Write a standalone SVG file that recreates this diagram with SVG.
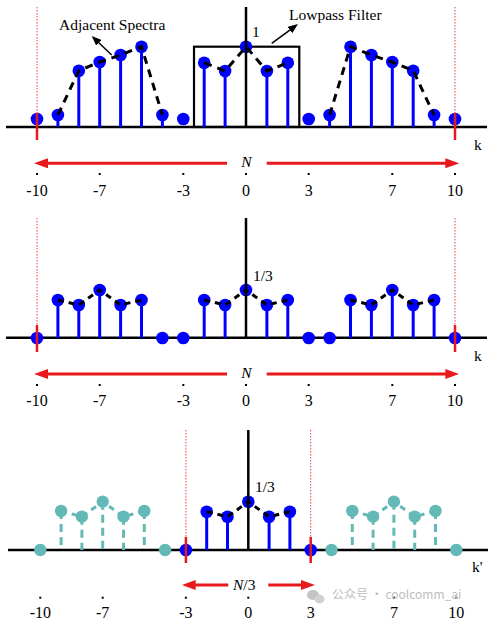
<svg xmlns="http://www.w3.org/2000/svg" width="499" height="624" viewBox="0 0 499 624">
<defs>
<style>
.axis{stroke:#000;stroke-width:2.5;fill:none}
.stem{stroke:#0000ff;stroke-width:3}
.tstem{stroke:#63b9b6;stroke-width:3;stroke-dasharray:8 5}
.dot{fill:#0000ff}
.tdot{fill:#63b9b6}
.env{stroke:#000;stroke-width:3;fill:none;stroke-dasharray:8 6}
.envs{stroke:#000;stroke-width:3;fill:none;stroke-dasharray:6 5}
.tenv{stroke:#63b9b6;stroke-width:3;fill:none;stroke-dasharray:6 5}
.rdot{stroke:#f04040;stroke-width:1;stroke-dasharray:1.5 1.5}
.rtick{stroke:#e8191c;stroke-width:2.5}
.rarrow{stroke:#e8191c;stroke-width:3;fill:none;marker-end:url(#ra)}
.barrow{stroke:#000;stroke-width:1.5;fill:none;marker-end:url(#ba)}
.lbl{font-family:"Liberation Serif",serif;font-size:15.5px;fill:#000}
.num{font-family:"Liberation Serif",serif;font-size:16px;fill:#000;text-anchor:middle}
.it{font-style:italic}
.tk{fill:#000}
</style>
<marker id="ra" markerUnits="userSpaceOnUse" markerWidth="14" markerHeight="11" refX="3" refY="5" orient="auto">
<path d="M0,0 L14,5 L0,10 z" fill="#e8191c"/>
</marker>
<marker id="ba" markerUnits="userSpaceOnUse" markerWidth="10" markerHeight="8" refX="2" refY="4" orient="auto">
<path d="M0,0 L10,4 L0,8 z" fill="#000"/>
</marker>
</defs>
<rect width="499" height="624" fill="#fff"/>

<!-- TOP PANEL -->
<g id="panel1">
<g id="p1-guides">
<line class="rdot" x1="37" y1="7" x2="37" y2="127"/>
<line class="rdot" x1="455" y1="7" x2="455" y2="127"/>
</g>
<g id="p1-axis">
<line class="axis" x1="6" y1="127" x2="487" y2="127"/>
</g>
<g id="p1-filter">
<rect x="194" y="46.7" width="105.3" height="80.3" fill="none" stroke="#000" stroke-width="2.2"/>
</g>
<g id="p1-stems">
<line class="stem" x1="57.9" y1="115" x2="57.9" y2="127"/>
<line class="stem" x1="78.8" y1="70.7" x2="78.8" y2="127"/>
<line class="stem" x1="99.7" y1="62" x2="99.7" y2="127"/>
<line class="stem" x1="120.6" y1="55" x2="120.6" y2="127"/>
<line class="stem" x1="141.5" y1="46.7" x2="141.5" y2="127"/>
<line class="stem" x1="162.4" y1="115" x2="162.4" y2="127"/>
<line class="stem" x1="204.2" y1="62.7" x2="204.2" y2="127"/>
<line class="stem" x1="225.1" y1="71" x2="225.1" y2="127"/>
<line class="stem" x1="266.9" y1="71" x2="266.9" y2="127"/>
<line class="stem" x1="287.8" y1="62.7" x2="287.8" y2="127"/>
<line class="stem" x1="329.6" y1="115" x2="329.6" y2="127"/>
<line class="stem" x1="350.5" y1="46.7" x2="350.5" y2="127"/>
<line class="stem" x1="371.4" y1="55" x2="371.4" y2="127"/>
<line class="stem" x1="392.3" y1="62" x2="392.3" y2="127"/>
<line class="stem" x1="413.2" y1="70.7" x2="413.2" y2="127"/>
<line class="stem" x1="434.1" y1="115" x2="434.1" y2="127"/>
</g>
<g id="p1-dots">
<circle class="dot" cx="37" cy="119" r="6.3"/>
<circle class="dot" cx="57.9" cy="115" r="6.3"/>
<circle class="dot" cx="78.8" cy="70.7" r="6.3"/>
<circle class="dot" cx="99.7" cy="62" r="6.3"/>
<circle class="dot" cx="120.6" cy="55" r="6.3"/>
<circle class="dot" cx="141.5" cy="46.7" r="6.3"/>
<circle class="dot" cx="162.4" cy="115" r="6.3"/>
<circle class="dot" cx="183.3" cy="119" r="6.3"/>
<circle class="dot" cx="204.2" cy="62.7" r="6.3"/>
<circle class="dot" cx="225.1" cy="71" r="6.3"/>
<circle class="dot" cx="246" cy="46.7" r="6.3"/>
<circle class="dot" cx="266.9" cy="71" r="6.3"/>
<circle class="dot" cx="287.8" cy="62.7" r="6.3"/>
<circle class="dot" cx="308.7" cy="119" r="6.3"/>
<circle class="dot" cx="329.6" cy="115" r="6.3"/>
<circle class="dot" cx="350.5" cy="46.7" r="6.3"/>
<circle class="dot" cx="371.4" cy="55" r="6.3"/>
<circle class="dot" cx="392.3" cy="62" r="6.3"/>
<circle class="dot" cx="413.2" cy="70.7" r="6.3"/>
<circle class="dot" cx="434.1" cy="115" r="6.3"/>
<circle class="dot" cx="455" cy="119" r="6.3"/>
</g>
<g id="p1-yaxis">
<line class="axis" x1="246" y1="7" x2="246" y2="127"/>
</g>
<g id="p1-envelope">
<polyline class="env" points="57.9,115 78.8,70.7 99.7,62 120.6,55 141.5,46.7 162.4,115"/>
<polyline class="env" points="204.2,62.7 225.1,71 246,46.7 266.9,71 287.8,62.7"/>
<polyline class="env" points="329.6,115 350.5,46.7 371.4,55 392.3,62 413.2,70.7 434.1,115"/>
</g>
<g id="p1-ticks">
<line class="rtick" x1="37" y1="113" x2="37" y2="140"/>
<line class="rtick" x1="455" y1="113" x2="455" y2="140"/>
</g>
<g id="p1-labels">
<text class="lbl" x="59" y="30">Adjacent Spectra</text>
<text class="lbl" x="289" y="20">Lowpass Filter</text>
<text class="lbl" x="252" y="37">1</text>
<text class="lbl" x="474" y="150">k</text>
<text class="lbl it" x="246.5" y="167" text-anchor="middle">N</text>
</g>
<g id="p1-connectors">
<line class="barrow" x1="111.7" y1="55" x2="97.5" y2="41.5"/>
<line class="barrow" x1="271.7" y1="43.3" x2="291.5" y2="28.8"/>
<line class="rarrow" x1="227" y1="163.3" x2="45" y2="163.3"/>
<line class="rarrow" x1="266.7" y1="163.3" x2="448.3" y2="163.3"/>
</g>
<g id="p1-scale">
<rect class="tk" x="36" y="173" width="2" height="2"/>
<rect class="tk" x="98.7" y="173" width="2" height="2"/>
<rect class="tk" x="182.3" y="173" width="2" height="2"/>
<rect class="tk" x="245" y="173" width="2" height="2"/>
<rect class="tk" x="307.7" y="173" width="2" height="2"/>
<rect class="tk" x="391.3" y="173" width="2" height="2"/>
<rect class="tk" x="454" y="173" width="2" height="2"/>
<text class="num" x="37" y="196">-10</text>
<text class="num" x="99.7" y="196">-7</text>
<text class="num" x="183.3" y="196">-3</text>
<text class="num" x="246" y="196">0</text>
<text class="num" x="308.7" y="196">3</text>
<text class="num" x="392.3" y="196">7</text>
<text class="num" x="455" y="196">10</text>
</g>
</g>

<!-- MIDDLE PANEL -->
<g id="panel2">
<g id="p2-guides">
<line class="rdot" x1="37" y1="218" x2="37" y2="338"/>
<line class="rdot" x1="455" y1="218" x2="455" y2="338"/>
</g>
<g id="p2-axis">
<line class="axis" x1="6" y1="337.7" x2="487" y2="337.7"/>
</g>
<g id="p2-stems">
<line class="stem" x1="57.9" y1="300" x2="57.9" y2="338"/>
<line class="stem" x1="78.8" y1="305" x2="78.8" y2="338"/>
<line class="stem" x1="99.7" y1="290" x2="99.7" y2="338"/>
<line class="stem" x1="120.6" y1="305" x2="120.6" y2="338"/>
<line class="stem" x1="141.5" y1="300" x2="141.5" y2="338"/>
<line class="stem" x1="204.2" y1="300" x2="204.2" y2="338"/>
<line class="stem" x1="225.1" y1="305" x2="225.1" y2="338"/>
<line class="stem" x1="266.9" y1="305" x2="266.9" y2="338"/>
<line class="stem" x1="287.8" y1="300" x2="287.8" y2="338"/>
<line class="stem" x1="350.5" y1="300" x2="350.5" y2="338"/>
<line class="stem" x1="371.4" y1="305" x2="371.4" y2="338"/>
<line class="stem" x1="392.3" y1="290" x2="392.3" y2="338"/>
<line class="stem" x1="413.2" y1="305" x2="413.2" y2="338"/>
<line class="stem" x1="434.1" y1="300" x2="434.1" y2="338"/>
</g>
<g id="p2-dots">
<circle class="dot" cx="37" cy="338" r="6.3"/>
<circle class="dot" cx="57.9" cy="300" r="6.3"/>
<circle class="dot" cx="78.8" cy="305" r="6.3"/>
<circle class="dot" cx="99.7" cy="290" r="6.3"/>
<circle class="dot" cx="120.6" cy="305" r="6.3"/>
<circle class="dot" cx="141.5" cy="300" r="6.3"/>
<circle class="dot" cx="162.4" cy="338" r="6.3"/>
<circle class="dot" cx="183.3" cy="338" r="6.3"/>
<circle class="dot" cx="204.2" cy="300" r="6.3"/>
<circle class="dot" cx="225.1" cy="305" r="6.3"/>
<circle class="dot" cx="246" cy="290" r="6.3"/>
<circle class="dot" cx="266.9" cy="305" r="6.3"/>
<circle class="dot" cx="287.8" cy="300" r="6.3"/>
<circle class="dot" cx="308.7" cy="338" r="6.3"/>
<circle class="dot" cx="329.6" cy="338" r="6.3"/>
<circle class="dot" cx="350.5" cy="300" r="6.3"/>
<circle class="dot" cx="371.4" cy="305" r="6.3"/>
<circle class="dot" cx="392.3" cy="290" r="6.3"/>
<circle class="dot" cx="413.2" cy="305" r="6.3"/>
<circle class="dot" cx="434.1" cy="300" r="6.3"/>
<circle class="dot" cx="455" cy="338" r="6.3"/>
</g>
<g id="p2-yaxis">
<line class="axis" x1="246" y1="218" x2="246" y2="338"/>
</g>
<g id="p2-envelope">
<polyline class="envs" points="57.9,300 78.8,305 99.7,290 120.6,305 141.5,300"/>
<polyline class="envs" points="204.2,300 225.1,305 246,290 266.9,305 287.8,300"/>
<polyline class="envs" points="350.5,300 371.4,305 392.3,290 413.2,305 434.1,300"/>
</g>
<g id="p2-ticks">
<line class="rtick" x1="37" y1="325" x2="37" y2="352"/>
<line class="rtick" x1="455" y1="325" x2="455" y2="352"/>
</g>
<g id="p2-labels">
<text class="lbl" x="253" y="281">1/3</text>
<text class="lbl" x="474" y="361">k</text>
<text class="lbl it" x="246.5" y="378" text-anchor="middle">N</text>
</g>
<g id="p2-connectors">
<line class="rarrow" x1="227" y1="374" x2="45" y2="374"/>
<line class="rarrow" x1="266.7" y1="374" x2="448.3" y2="374"/>
</g>
<g id="p2-scale">
<rect class="tk" x="36" y="384" width="2" height="2"/>
<rect class="tk" x="98.7" y="384" width="2" height="2"/>
<rect class="tk" x="182.3" y="384" width="2" height="2"/>
<rect class="tk" x="245" y="384" width="2" height="2"/>
<rect class="tk" x="307.7" y="384" width="2" height="2"/>
<rect class="tk" x="391.3" y="384" width="2" height="2"/>
<rect class="tk" x="454" y="384" width="2" height="2"/>
<text class="num" x="37" y="406">-10</text>
<text class="num" x="99.7" y="406">-7</text>
<text class="num" x="183.3" y="406">-3</text>
<text class="num" x="246" y="406">0</text>
<text class="num" x="308.7" y="406">3</text>
<text class="num" x="392.3" y="406">7</text>
<text class="num" x="455" y="406">10</text>
</g>
</g>

<!-- BOTTOM PANEL -->
<g id="panel3">
<g id="p3-guides">
<line class="rdot" x1="185.9" y1="430" x2="185.9" y2="550"/>
<line class="rdot" x1="310.7" y1="430" x2="310.7" y2="550"/>
</g>
<g id="p3-axis">
<line class="axis" x1="8" y1="550" x2="488" y2="550"/>
</g>
<g id="p3-stems">
<line class="tstem" x1="61.1" y1="511" x2="61.1" y2="550"/>
<line class="tstem" x1="81.9" y1="516.7" x2="81.9" y2="550"/>
<line class="tstem" x1="102.7" y1="501.7" x2="102.7" y2="550"/>
<line class="tstem" x1="123.5" y1="516.7" x2="123.5" y2="550"/>
<line class="tstem" x1="144.3" y1="511" x2="144.3" y2="550"/>
<line class="stem" x1="206.7" y1="511.7" x2="206.7" y2="550"/>
<line class="stem" x1="227.5" y1="516.7" x2="227.5" y2="550"/>
<line class="stem" x1="269.1" y1="516.7" x2="269.1" y2="550"/>
<line class="stem" x1="289.9" y1="511.7" x2="289.9" y2="550"/>
<line class="tstem" x1="352.3" y1="511" x2="352.3" y2="550"/>
<line class="tstem" x1="373.1" y1="516.7" x2="373.1" y2="550"/>
<line class="tstem" x1="393.9" y1="501.7" x2="393.9" y2="550"/>
<line class="tstem" x1="414.7" y1="516.7" x2="414.7" y2="550"/>
<line class="tstem" x1="435.5" y1="511" x2="435.5" y2="550"/>
</g>
<g id="p3-dots">
<circle class="tdot" cx="40.3" cy="550" r="6.2"/>
<circle class="tdot" cx="61.1" cy="511" r="6.2"/>
<circle class="tdot" cx="81.9" cy="516.7" r="6.2"/>
<circle class="tdot" cx="102.7" cy="501.7" r="6.2"/>
<circle class="tdot" cx="123.5" cy="516.7" r="6.2"/>
<circle class="tdot" cx="144.3" cy="511" r="6.2"/>
<circle class="tdot" cx="165.1" cy="550" r="6.2"/>
<circle class="dot" cx="185.9" cy="550" r="6.3"/>
<circle class="dot" cx="206.7" cy="511.7" r="6.3"/>
<circle class="dot" cx="227.5" cy="516.7" r="6.3"/>
<circle class="dot" cx="248.3" cy="501.7" r="6.3"/>
<circle class="dot" cx="269.1" cy="516.7" r="6.3"/>
<circle class="dot" cx="289.9" cy="511.7" r="6.3"/>
<circle class="dot" cx="310.7" cy="550" r="6.3"/>
<circle class="tdot" cx="331.5" cy="550" r="6.2"/>
<circle class="tdot" cx="352.3" cy="511" r="6.2"/>
<circle class="tdot" cx="373.1" cy="516.7" r="6.2"/>
<circle class="tdot" cx="393.9" cy="501.7" r="6.2"/>
<circle class="tdot" cx="414.7" cy="516.7" r="6.2"/>
<circle class="tdot" cx="435.5" cy="511" r="6.2"/>
<circle class="tdot" cx="456.3" cy="550" r="6.2"/>
</g>
<g id="p3-yaxis">
<line class="axis" x1="248.3" y1="430" x2="248.3" y2="550"/>
</g>
<g id="p3-envelope">
<polyline class="tenv" points="61.1,511 81.9,516.7 102.7,501.7 123.5,516.7 144.3,511"/>
<polyline class="envs" points="206.7,511.7 227.5,516.7 248.3,501.7 269.1,516.7 289.9,511.7"/>
<polyline class="tenv" points="352.3,511 373.1,516.7 393.9,501.7 414.7,516.7 435.5,511"/>
</g>
<g id="p3-ticks">
<line class="rtick" x1="185.9" y1="537" x2="185.9" y2="563"/>
<line class="rtick" x1="310.7" y1="537" x2="310.7" y2="563"/>
</g>
<g id="p3-labels">
<text class="lbl" x="255" y="492">1/3</text>
<text class="lbl" x="472" y="572">k'</text>
<text class="lbl" x="233" y="590"><tspan class="it">N</tspan>/3</text>
</g>
<g id="p3-connectors">
<line class="rarrow" x1="228.3" y1="585" x2="192.7" y2="585"/>
<line class="rarrow" x1="268.3" y1="585" x2="304" y2="585"/>
</g>
<g id="p3-scale">
<rect class="tk" x="39.3" y="596.7" width="2" height="2"/>
<rect class="tk" x="101.7" y="596.7" width="2" height="2"/>
<rect class="tk" x="184.9" y="596.7" width="2" height="2"/>
<rect class="tk" x="247.3" y="596.7" width="2" height="2"/>
<rect class="tk" x="309.7" y="596.7" width="2" height="2"/>
<rect class="tk" x="392.9" y="596.7" width="2" height="2"/>
<rect class="tk" x="455.3" y="596.7" width="2" height="2"/>
<text class="num" x="40.3" y="618">-10</text>
<text class="num" x="102.7" y="618">-7</text>
<text class="num" x="185.9" y="618">-3</text>
<text class="num" x="248.3" y="618">0</text>
<text class="num" x="310.7" y="618">3</text>
<text class="num" x="393.9" y="618">7</text>
<text class="num" x="456.3" y="618">10</text>
</g>
</g>

<g id="watermark">
<ellipse cx="313" cy="595" rx="6" ry="5" fill="#c4c4c4"/>
<ellipse cx="319.5" cy="599" rx="5" ry="4.4" fill="#d0d0d0"/>
<text x="332" y="599" font-family="Noto Sans CJK SC, sans-serif" font-size="12" fill="#bdbdbd">公众号 · coolcomm_ai</text>
</g>
</svg>
